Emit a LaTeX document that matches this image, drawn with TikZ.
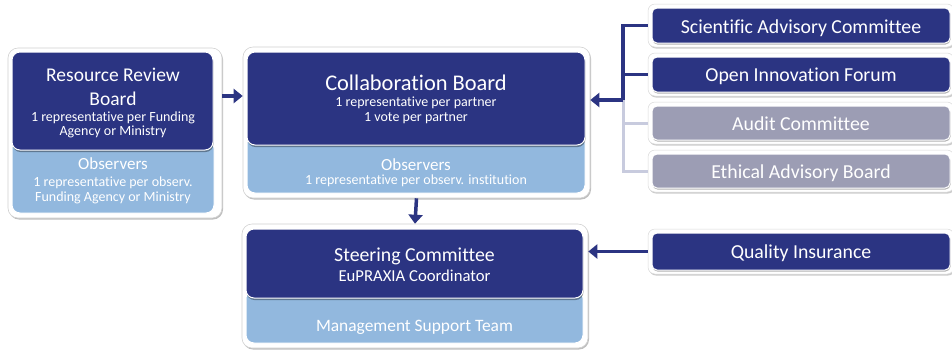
\documentclass[tikz,border=0pt]{standalone}
\usepackage{fontspec}
\setmainfont{Carlito}[Ligatures=NoCommon]
\usetikzlibrary{arrows.meta,shadows}
\definecolor{navy}{RGB}{43,52,130}
\definecolor{lblue}{RGB}{146,184,222}
\definecolor{grayb}{RGB}{156,157,180}
\definecolor{lline}{RGB}{200,203,222}
\tikzset{
  frame/.style={draw=black!18,fill=white,rounded corners=10pt,line width=0.6pt,
    drop shadow={shadow xshift=1pt,shadow yshift=-1.5pt,opacity=0.25,fill=black}},
  darkbox/.style={draw=white,line width=1pt,fill=navy,rounded corners=8pt,inner sep=0pt,
    drop shadow={shadow xshift=0.5pt,shadow yshift=-2pt,opacity=0.35,fill=black}},
  lightbox/.style={draw=white,line width=1pt,fill=lblue,rounded corners=8pt,inner sep=0pt},
  graybox/.style={draw=white,line width=1pt,fill=grayb,rounded corners=5pt,inner sep=0pt,
    drop shadow={shadow xshift=0.5pt,shadow yshift=-1.5pt,opacity=0.3,fill=black}},
  navybox/.style={draw=white,line width=1pt,fill=navy,rounded corners=5pt,inner sep=0pt,
    drop shadow={shadow xshift=0.5pt,shadow yshift=-1.5pt,opacity=0.3,fill=black}},
  rframe/.style={draw=black!15,fill=white,rounded corners=7pt,line width=0.5pt,
    drop shadow={shadow xshift=1pt,shadow yshift=-1.5pt,opacity=0.2,fill=black}},
  wt/.style={text=white,inner sep=0pt,anchor=base},
  big/.style={wt,font=\fontsize{19.5}{22}\selectfont},
  small/.style={wt,font=\fontsize{14}{16}\selectfont},
  obs/.style={wt,font=\fontsize{17}{20}\selectfont},
  rt/.style={wt,font=\fontsize{19.8}{22}\selectfont},
  arr/.style={draw=navy,line width=3.5pt,-{Triangle[length=9pt,width=14pt]}},
  conn/.style={draw=navy,line width=3.5pt},
  lconn/.style={draw=lline,line width=3pt},
}
\begin{document}
\begin{tikzpicture}[x=1pt,y=-1pt]
\useasboundingbox[fill=white] (0,0) rectangle (952,349);

% Resource Review Board
\node[frame,minimum width=214pt,minimum height=170pt] (rrbF) at (115,133) {};
\node[lightbox,minimum width=202pt,minimum height=73pt] (rrbO) at (113,176.5) {};
\node[darkbox,minimum width=201pt,minimum height=98pt] (rrb) at (112.5,101) {};
\node[big] (rrb1) at (113,81.7) {Resource Review};
\node[big] (rrb2) at (113,105) {Board};
\node[small] (rrb3) at (113,121.7) {1 representative per Funding};
\node[small] (rrb4) at (113,135.5) {Agency or Ministry};
\node[obs] (rrbO1) at (113,169.3) {Observers};
\node[small] (rrbO2) at (113,186.7) {1 representative per observ.};
\node[small] (rrbO3) at (113,201.7) {Funding Agency or Ministry};

% Collaboration Board
\node[frame,minimum width=347pt,minimum height=151pt] (cbF) at (416.5,122.5) {};
\node[lightbox,minimum width=338pt,minimum height=58pt] (cbO) at (416,164) {};
\node[darkbox,minimum width=338pt,minimum height=93pt] (cb) at (416,98.5) {};
\node[wt,font=\fontsize{22.4}{25}\selectfont] (cb1) at (416,90.7) {Collaboration Board};
\node[small] (cb2) at (416,106.7) {1 representative per partner};
\node[small] (cb3) at (416,121.7) {1 vote per partner};
\node[obs] (cbO1) at (416,170) {Observers};
\node[small] (cbO2) at (416,184.3) {1 representative per observ. institution};

% Steering Committee
\node[frame,minimum width=346pt,minimum height=124pt] (scF) at (415,286) {};
\node[lightbox,minimum width=337pt,minimum height=53pt] (scO) at (414.5,316.5) {};
\node[darkbox,minimum width=337pt,minimum height=69pt] (sc) at (414.5,263.5) {};
\node[wt,font=\fontsize{19.8}{22}\selectfont] (sc1) at (414.5,261) {Steering Committee};
\node[wt,font=\fontsize{16.7}{20}\selectfont] (sc2) at (414.5,281.7) {EuPRAXIA Coordinator};
\node[wt,font=\fontsize{17.4}{20}\selectfont] (scO1) at (414.5,331.7) {Management Support Team};

% Right column
\node[rframe,minimum width=306pt,minimum height=43pt] (sacF) at (801,25.5) {};
\node[navybox,minimum width=298pt,minimum height=35pt] (sac) at (801,25.5) {};
\node[rt] (sact) at (801,33) {Scientific Advisory Committee};
\node[rframe,minimum width=306pt,minimum height=43pt] (oifF) at (801,74.5) {};
\node[navybox,minimum width=298pt,minimum height=35pt] (oif) at (801,74.5) {};
\node[rt] (oift) at (801,81.7) {Open Innovation Forum};
\node[rframe,minimum width=306pt,minimum height=42pt] (acF) at (801,123) {};
\node[graybox,minimum width=298pt,minimum height=34pt] (ac) at (801,123) {};
\node[rt] (act) at (801,130) {Audit Committee};
\node[rframe,minimum width=306pt,minimum height=42pt] (eabF) at (801,171) {};
\node[graybox,minimum width=298pt,minimum height=34pt] (eab) at (801,171) {};
\node[rt] (eabt) at (801,178.3) {Ethical Advisory Board};
\node[rframe,minimum width=306pt,minimum height=45pt] (qiF) at (801,251.5) {};
\node[navybox,minimum width=298pt,minimum height=37pt] (qi) at (801,251.5) {};
\node[rt] (qit) at (801,258.3) {Quality Insurance};

% connectors
\coordinate (j) at (623,100);
\draw[lconn] (j) |- (eabF.west);
\draw[lconn] (j |- acF.west) -- (acF.west);
\draw[conn] (sacF.west) -| (j);
\draw[conn] (oifF.west) -- (oifF.west -| j);
\draw[arr] (j) -- (j -| cbF.east);

\draw[arr] (rrbF.east |- 0,96) -- (cbF.west |- 0,96);
\draw[arr] (cbF.south) -- (scF.north);
\draw[arr] (qiF.west) -- (qiF.west -| scF.east);
\end{tikzpicture}
\end{document}
